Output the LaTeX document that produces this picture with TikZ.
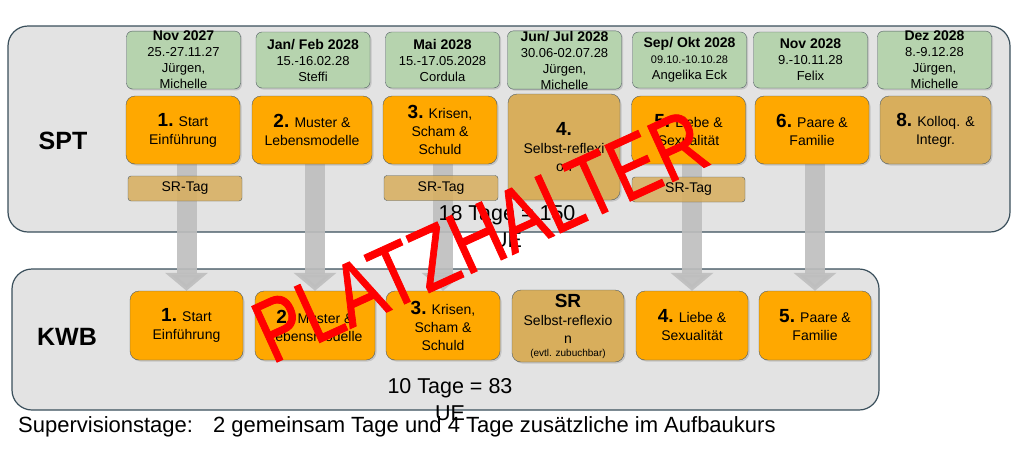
\documentclass[tikz,border=0pt]{standalone}
\usepackage{fontspec}
\setmainfont{Liberation Sans}
\newfontfamily\stampfont{Liberation Sans}[FakeBold=1]
\usetikzlibrary{arrows.meta,shadows}
\definecolor{dategreen}{RGB}{182,211,174}
\definecolor{modorange}{RGB}{255,168,0}
\definecolor{srtan}{RGB}{216,174,92}
\definecolor{panelgray}{RGB}{227,227,227}
\definecolor{panelline}{RGB}{58,79,91}
\definecolor{boxline}{RGB}{80,92,98}
\definecolor{arrowgray}{RGB}{190,190,190}
\newcommand{\fsz}[2]{\fontsize{#1}{#2}\selectfont}
\newcommand{\stepno}[1]{{\fsz{19}{19}\bfseries #1}}
\newcommand{\when}[1]{{\fsz{14}{16}\bfseries #1}}
\pgfdeclarelayer{back}
\pgfdeclarelayer{mid}
\pgfsetlayers{back,mid,main}
\tikzset{
  softshadow/.style={drop shadow={opacity=0.3, shadow xshift=1.5pt, shadow yshift=-1.5pt}},
  panel/.style={draw=panelline, line width=1.2pt, fill=panelgray, rounded corners=20pt},
  datebox/.style={draw=boxline, fill=dategreen, rounded corners=6pt, minimum width=114pt,
    minimum height=56pt, inner sep=0pt, align=center, font=\fsz{13}{16}, softshadow},
  modbox/.style={draw=boxline, fill=modorange, rounded corners=9pt, minimum width=114pt,
    minimum height=68pt, inner sep=0pt, align=center, font=\fsz{14}{18}, softshadow},
  tanbox/.style={modbox, fill=srtan},
  tagbox/.style={draw=boxline, fill=srtan, fill opacity=0.85, text opacity=1, rounded corners=3pt,
    minimum width=114pt, minimum height=25pt, inner sep=0pt, font=\fsz{14}{16}},
  rowlabel/.style={font=\fsz{25}{25}\bfseries},
  sumtext/.style={align=center, font=\fsz{21.5}{27}},
  bigarrow/.style={draw=arrowgray, opacity=0.9, line width=20pt, -{Triangle[width=42pt,length=18pt]}},
}
\begin{document}
\begin{tikzpicture}[x=1pt, y=-1pt]
  \useasboundingbox (0,0) rectangle (1030,461);
  \begin{pgfonlayer}{back}
    \node[panel, minimum width=1002pt, minimum height=206pt] (sptpanel) at (509,129) {};
    \node[panel, minimum width=867pt, minimum height=141pt] (kwbpanel) at (445.5,339.5) {};
  \end{pgfonlayer}

  \node[rowlabel] (sptlabel) at (63,141) {SPT};
  \node[rowlabel] (kwblabel) at (67,337) {KWB};

  % dates
  \node[datebox] (d1) at (183.5,60) {\when{Nov 2027}\\25.-27.11.27\\Jürgen,\\Michelle};
  \node[datebox] (d2) at (313,60) {\when{Jan/ Feb 2028}\\15.-16.02.28\\Steffi};
  \node[datebox] (d3) at (442.5,60) {\when{Mai 2028}\\15.-17.05.2028\\Cordula};
  \node[datebox] (d4) at (564.5,60) {\when{Jun/ Jul 2028}\\30.06-02.07.28\\Jürgen,\\Michelle};
  \node[datebox] (d5) at (689.5,60) {\when{Sep/ Okt 2028}\\{\fsz{11}{14}09.10.-10.10.28}\\Angelika Eck};
  \node[datebox] (d6) at (810.5,60) {\when{Nov 2028}\\9.-10.11.28\\Felix};
  \node[datebox] (d7) at (934.5,60) {\when{Dez 2028}\\8.-9.12.28\\Jürgen,\\Michelle};

  % SPT modules
  \node[modbox] (s1) at (183,130) {\stepno{1.} Start\\Einführung};
  \node[modbox, minimum width=120pt] (s2) at (312,130) {\stepno{2.} Muster \&\\Lebensmodelle};
  \node[modbox] (s3) at (440,130) {\stepno{3.} Krisen,\\Scham \&\\Schuld};
  \node[tanbox, minimum width=112pt, minimum height=106pt] (s4) at (564,147) {\stepno{4.}\\Selbst-reflexi\\on};
  \node[modbox] (s5) at (688.5,130) {\stepno{5.} Liebe \&\\Sexualität};
  \node[modbox] (s6) at (812,130) {\stepno{6.} Paare \&\\Familie};
  \node[tanbox, minimum width=111pt] (s7) at (935.5,130) {\stepno{8.} Kolloq. \&\\Integr.};

  \node[tagbox] (t1) at (185,188.5) {SR-Tag};
  \node[tagbox] (t3) at (441,188) {SR-Tag};
  \node[tagbox, minimum width=113pt] (t5) at (688.5,189.5) {SR-Tag};

  \node[sumtext] (sptsum) at (507,226.5) {18 Tage = 150\\UE};

  % KWB modules
  \node[modbox, minimum width=113pt, minimum height=69pt] (k1) at (186.5,325.5) {\stepno{1.} Start\\Einführung};
  \node[modbox, minimum width=120pt, minimum height=69pt] (k2) at (315,325.5) {\stepno{2.} Muster \&\\Lebensmodelle};
  \node[modbox, minimum height=69pt] (k3) at (443,325.5) {\stepno{3.} Krisen,\\Scham \&\\Schuld};
  \node[tanbox, minimum width=112pt, minimum height=72pt] (k4) at (568,326) {\stepno{SR}\\Selbst-reflexio\\n\\[-5pt]{\fsz{10}{11}(evtl. zubuchbar)}};
  \node[modbox, minimum width=112pt, minimum height=69pt] (k5) at (692,325.5) {\stepno{4.} Liebe \&\\Sexualität};
  \node[modbox, minimum width=112pt, minimum height=69pt] (k6) at (815,325.5) {\stepno{5.} Paare \&\\Familie};

  \node[sumtext] (kwbsum) at (450,400) {10 Tage = 83\\UE};

  \node[anchor=west, inner sep=0pt, font=\fsz{22}{24}] (note) at (18,427)
    {Supervisionstage:\hspace{20pt}2 gemeinsam Tage und 4 Tage zusätzliche im Aufbaukurs};

  \begin{pgfonlayer}{mid}
    \foreach \from/\to in {s1/k1, s2/k2, s3/k3, s5/k5, s6/k6}
      \draw[bigarrow] (\to.north |- \from.south) -- (\to.north);
  \end{pgfonlayer}

  \node[rotate=24.5, text=red, inner sep=0pt, font=\stampfont\fsz{89}{89}] (stamp) at (480,236)
    {\scalebox{0.79}[1]{PLATZHALTER}};
\end{tikzpicture}
\end{document}
